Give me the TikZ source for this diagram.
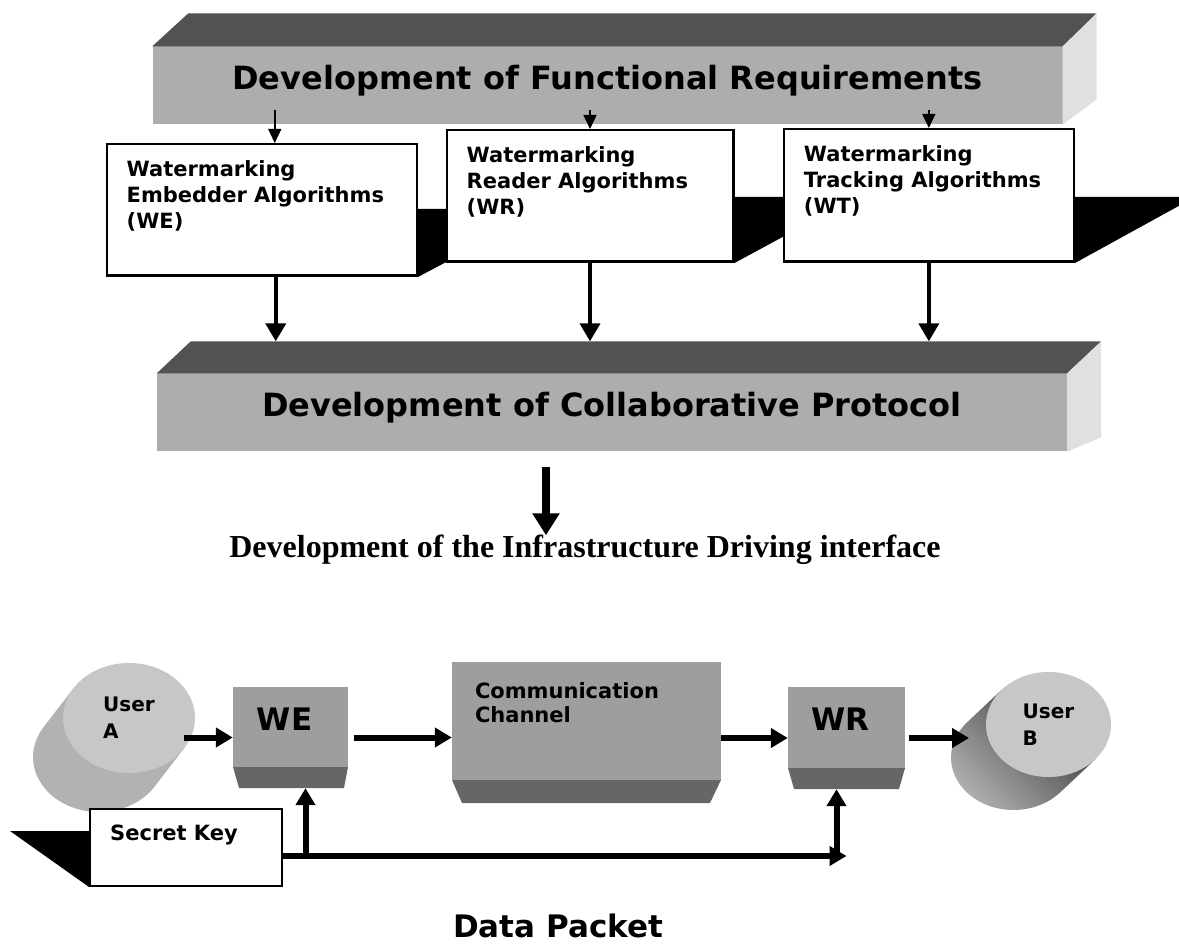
\documentclass[tikz,border=0pt]{standalone}
\usepackage{fontspec}
\setsansfont{DejaVu Sans}
\newfontfamily\infrafont{Liberation Serif}
\usetikzlibrary{positioning,calc,arrows.meta,backgrounds,shapes.geometric}

\definecolor{slabtop}{gray}{0.32}
\definecolor{slabfront}{gray}{0.68}
\definecolor{slabside}{gray}{0.88}
\definecolor{cubegray}{gray}{0.62}
\definecolor{cubeband}{gray}{0.40}
\definecolor{diskface}{gray}{0.78}
\definecolor{diskbody}{gray}{0.70}
\definecolor{diskdark}{gray}{0.22}

\tikzset{
  slab/.style={rectangle, fill=slabfront, inner sep=0pt, minimum width=910pt, minimum height=78pt,
    text height=23pt, text depth=14pt, font=\sffamily\bfseries\fontsize{32}{38}\selectfont},
  algo/.style={rectangle, draw, line width=2.5pt, fill=white, anchor=north west, inner sep=0pt},
  algotext/.style={anchor=north west, inner sep=0pt, align=left, xshift=21pt, yshift=-17pt,
    font=\sffamily\bfseries\fontsize{21}{26}\selectfont},
  cube/.style n args={3}{rectangle, inner sep=0pt, fill=white, path picture={
    \fill[cubegray] (path picture bounding box.north west) rectangle ([yshift=#1]path picture bounding box.south east);
    \fill[cubeband] ([yshift=#1]path picture bounding box.south west) -- ([yshift=#1]path picture bounding box.south east)
      -- ([xshift=-#3]path picture bounding box.south east) -- ([xshift=#2]path picture bounding box.south west) -- cycle;}},
  cubetext/.style={anchor=north, inner sep=0pt, xshift=-6pt, yshift=-21pt,
    font=\sffamily\bfseries\fontsize{31}{36}\selectfont},
  commtext/.style={anchor=north west, inner sep=0pt, align=left, xshift=23pt, yshift=-21pt,
    font=\sffamily\bfseries\fontsize{21}{24}\selectfont},
  disk/.style={ellipse, fill=diskface, inner sep=0pt, align=left,
    font=\sffamily\bfseries\fontsize{20}{27}\selectfont},
  thinarr/.style={line width=1.5pt, -{Triangle[width=13pt,length=14pt]}},
  midarr/.style={line width=4pt, -{Triangle[width=20pt,length=18pt]}},
  bigarr/.style={line width=8pt, -{Triangle[width=26pt,length=22pt]}},
  flowarr/.style={line width=6pt, -{Triangle[width=19pt,length=17pt]}}
}

\begin{document}
\begin{tikzpicture}[x=1pt, y=-1pt]
  \useasboundingbox (0,0) rectangle (1179,949);
  % Slabs
  \node (funcreq) [slab] at (607.5,85.5) {Development of Functional Requirements};
  \fill[slabtop] (funcreq.north west) -- ++(36,-33) -- ($(funcreq.north east)+(34,-33)$) -- (funcreq.north east) -- cycle;
  \fill[slabside] (funcreq.north east) -- ++(34,-33) -- ++(0,86) -- (funcreq.south east) -- cycle;
  \node (collab) [slab] at (612,412.5) {Development of Collaborative Protocol};
  \fill[slabtop] (collab.north west) -- ++(34,-32) -- ($(collab.north east)+(34,-32)$) -- (collab.north east) -- cycle;
  \fill[slabside] (collab.north east) -- ++(34,-32) -- ++(0,96) -- (collab.south east) -- cycle;
  % Algorithms
  \node (weA) [algo, minimum width=310pt, minimum height=131.5pt,
    label={[algotext]north west:{Watermarking\\Embedder Algorithms\\(WE)}}] at (105.5,143) {};
  \node (wrA) [algo, minimum width=286.5pt, minimum height=131.5pt,
    label={[algotext]north west:{Watermarking\\Reader Algorithms\\(WR)}}] at (445.5,129) {};
  \node (wtA) [algo, minimum width=289.8pt, minimum height=132.5pt,
    label={[algotext]north west:{Watermarking\\Tracking Algorithms\\(WT)}}] at (782.7,128) {};
  \begin{scope}[on background layer]
    \fill (weA.south east) -- ++(0,-68) -- ++(128,0) -- cycle;
    \fill (wrA.south east) -- ++(0,-66) -- ++(122,0) -- cycle;
    \fill (wtA.south east) -- ++(0,-66) -- ++(120,0) -- cycle;
  \end{scope}
  % Arrows
  \draw[thinarr] ([xshift=13pt,yshift=15pt]funcreq.south -| weA.north) -- ([xshift=13pt]weA.north);
  \draw[thinarr] ([yshift=15pt]funcreq.south -| wrA.north) -- (wrA.north);
  \draw[thinarr] ([yshift=15pt]funcreq.south -| wtA.north) -- (wtA.north);
  \draw[midarr] ([xshift=14pt]weA.south) -- ([xshift=14pt,yshift=32pt]weA.south |- collab.north);
  \draw[midarr] (wrA.south) -- ([yshift=32pt]wrA.south |- collab.north);
  \draw[midarr] (wtA.south) -- ([yshift=32pt]wtA.south |- collab.north);
  % Infrastructure
  \node (infra) [anchor=base, inner sep=0pt, font=\infrafont\bfseries\fontsize{32}{38}\selectfont] at (585,558)
    {Development of the Infrastructure Driving interface};
  \draw[bigarr] ([xshift=-66pt,yshift=-15pt]collab.south) -- ([xshift=-39pt]infra.north);
  % Data packet
  \node (userA) [disk, minimum width=132pt, minimum height=110pt] at (129,718) {User\\A};
  \node (userB) [disk, minimum width=125pt, minimum height=105pt] at (1048.5,724.5) {User\\B};
  \begin{scope}[on background layer]
    \fill[diskbody] ($(userA.center)+(32.7:66 and 55)$) -- ++(-30,39)
      arc[start angle=32.7, end angle=212.7, x radius=66, y radius=55]
      -- ($(userA.center)+(212.7:66 and 55)$) -- cycle;
    \shade[top color=diskdark, bottom color=diskbody, shading angle=-45]
      ($(userB.center)+(41.7:62.5 and 52.5)$) -- ++(-35,33)
      arc[start angle=41.7, end angle=221.7, x radius=62.5, y radius=52.5]
      -- ($(userB.center)+(221.7:62.5 and 52.5)$) -- cycle;
  \end{scope}
  \node (weB) [cube={21pt}{6pt}{4pt}, minimum width=115pt, minimum height=101pt,
    label={[cubetext]north:WE}] at (290.5,737.5) {};
  \node (comm) [cube={23pt}{10pt}{11pt}, minimum width=269pt, minimum height=141pt,
    label={[commtext]north west:{Communication\\Channel}}] at (586.5,732.5) {};
  \node (wrB) [cube={21pt}{6pt}{6pt}, minimum width=117pt, minimum height=102pt,
    label={[cubetext]north:WR}] at (846.5,738) {};
  \node (keybox) [algo, line width=2pt, minimum width=192pt, minimum height=77pt,
    label={[algotext]north west:Secret Key}] at (89,808) {};
  \begin{scope}[on background layer]
    \fill (keybox.south west) -- ++(-79,-56) -- ++(100,0) -- cycle;
  \end{scope}
  \coordinate (userAout) at (184,737.5);
  \coordinate (userBin) at (969,738);
  \coordinate (keyrow) at (0,856);
  \draw[flowarr] (userAout) -- (userAout -| weB.west);
  \draw[flowarr, shorten <=6pt] (weB.east) -- (weB.east -| comm.west);
  \draw[flowarr] (comm.east |- wrB.west) -- (wrB.west);
  \draw[flowarr, shorten <=4pt] (wrB.east) -- (userBin);
  \draw[flowarr] (keybox.east |- keyrow) -- (wrB.south |- keyrow);
  \draw[flowarr] ([xshift=15pt]weB.south |- keyrow) -- ([xshift=15pt]weB.south);
  \draw[flowarr] ([xshift=-10pt]wrB.south |- keyrow) -- ([xshift=-10pt]wrB.south);
  \node (packet) [anchor=base, inner sep=0pt, font=\sffamily\bfseries\fontsize{31}{36}\selectfont] at (558,937) {Data Packet};
\end{tikzpicture}
\end{document}
